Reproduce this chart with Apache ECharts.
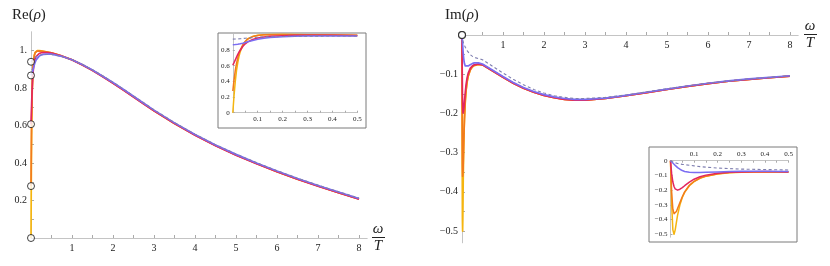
<!DOCTYPE html>
<html><head><meta charset="utf-8">
<script src="https://cdn.jsdelivr.net/npm/echarts@6.0.0/dist/echarts.min.js"></script>
<style>html,body{margin:0;padding:0;background:#fff}#c{width:830px;height:266px}</style>
</head><body><div id="c"></div>
<script>
// ---- data ----
const omega = [0, 0.005, 0.01, 0.015, 0.02, 0.025, 0.03, 0.04, 0.05, 0.06, 0.08, 0.1, 0.125, 0.15, 0.2, 0.25, 0.3, 0.4, 0.5, 0.75, 1, 1.25, 1.5, 1.75, 2, 2.25, 2.5, 2.75, 3, 3.5, 4, 4.5, 5, 5.5, 6, 6.5, 7, 7.5, 8];

const reYellow = [0, 0.22, 0.40, 0.54, 0.64, 0.72, 0.78, 0.86, 0.91, 0.945, 0.975, 0.99, 0.997, 0.999, 0.999, 0.998, 0.996, 0.992, 0.988, 0.971, 0.951, 0.924, 0.894, 0.861, 0.826, 0.790, 0.753, 0.716, 0.679, 0.611, 0.549, 0.493, 0.443, 0.397, 0.354, 0.314, 0.277, 0.242, 0.208];
const reOrange = [0.277, 0.42, 0.54, 0.63, 0.70, 0.755, 0.80, 0.865, 0.91, 0.94, 0.972, 0.987, 0.994, 0.997, 0.998, 0.997, 0.995, 0.991, 0.987, 0.971, 0.951, 0.924, 0.894, 0.861, 0.826, 0.790, 0.753, 0.716, 0.679, 0.611, 0.549, 0.493, 0.443, 0.397, 0.354, 0.314, 0.277, 0.242, 0.208];
const reRed = [0.607, 0.64, 0.675, 0.71, 0.745, 0.775, 0.80, 0.845, 0.88, 0.905, 0.935, 0.955, 0.968, 0.976, 0.984, 0.988, 0.989, 0.989, 0.986, 0.970, 0.950, 0.923, 0.893, 0.860, 0.825, 0.789, 0.752, 0.715, 0.678, 0.610, 0.548, 0.492, 0.442, 0.396, 0.353, 0.313, 0.276, 0.241, 0.207];
const reBlue = [0.867, 0.868, 0.87, 0.872, 0.874, 0.877, 0.88, 0.888, 0.897, 0.906, 0.922, 0.937, 0.95, 0.959, 0.97, 0.976, 0.979, 0.981, 0.981, 0.969, 0.951, 0.925, 0.896, 0.863, 0.829, 0.793, 0.756, 0.719, 0.682, 0.614, 0.552, 0.496, 0.446, 0.400, 0.357, 0.317, 0.280, 0.245, 0.211];
const reDashed = [0.94, 0.94, 0.941, 0.942, 0.943, 0.944, 0.945, 0.948, 0.951, 0.954, 0.959, 0.963, 0.967, 0.97, 0.974, 0.977, 0.978, 0.979, 0.979, 0.968, 0.951, 0.926, 0.897, 0.865, 0.831, 0.795, 0.758, 0.721, 0.684, 0.616, 0.554, 0.498, 0.448, 0.402, 0.359, 0.319, 0.282, 0.247, 0.213];

const imYellow = [0, -0.30, -0.47, -0.50, -0.47, -0.42, -0.37, -0.30, -0.25, -0.215, -0.17, -0.142, -0.12, -0.106, -0.09, -0.082, -0.078, -0.075, -0.076, -0.092, -0.108, -0.123, -0.136, -0.146, -0.154, -0.160, -0.164, -0.166, -0.166, -0.162, -0.155, -0.147, -0.139, -0.131, -0.124, -0.118, -0.113, -0.109, -0.105];
const imOrange = [0, -0.22, -0.33, -0.36, -0.36, -0.345, -0.325, -0.285, -0.245, -0.212, -0.167, -0.14, -0.118, -0.105, -0.089, -0.081, -0.077, -0.075, -0.076, -0.092, -0.108, -0.123, -0.136, -0.146, -0.154, -0.160, -0.164, -0.166, -0.166, -0.162, -0.155, -0.147, -0.139, -0.131, -0.124, -0.118, -0.113, -0.109, -0.105];
const imRed = [0, -0.09, -0.145, -0.175, -0.192, -0.199, -0.2, -0.194, -0.183, -0.17, -0.146, -0.126, -0.109, -0.098, -0.085, -0.079, -0.076, -0.074, -0.076, -0.092, -0.108, -0.123, -0.136, -0.146, -0.154, -0.160, -0.164, -0.166, -0.166, -0.162, -0.155, -0.147, -0.139, -0.131, -0.124, -0.118, -0.113, -0.109, -0.105];
const imBlue = [0, -0.008, -0.016, -0.024, -0.032, -0.04, -0.047, -0.058, -0.067, -0.073, -0.079, -0.08, -0.08, -0.079, -0.076, -0.073, -0.071, -0.071, -0.074, -0.090, -0.106, -0.121, -0.134, -0.144, -0.152, -0.158, -0.162, -0.164, -0.164, -0.161, -0.154, -0.146, -0.138, -0.130, -0.123, -0.117, -0.112, -0.108, -0.104];
const imDashed = [0, -0.004, -0.008, -0.011, -0.014, -0.017, -0.019, -0.022, -0.025, -0.027, -0.031, -0.035, -0.040, -0.044, -0.050, -0.054, -0.057, -0.060, -0.063, -0.080, -0.097, -0.113, -0.127, -0.139, -0.148, -0.155, -0.159, -0.162, -0.162, -0.159, -0.153, -0.145, -0.137, -0.130, -0.123, -0.117, -0.112, -0.108, -0.104];

const mainXLabels = [1, 2, 3, 4, 5, 6, 7, 8];
const mainXTicks = [0.5, 1, 1.5, 2, 2.5, 3, 3.5, 4, 4.5, 5, 5.5, 6, 6.5, 7, 7.5, 8];
const reYLabels = [0.2, 0.4, 0.6, 0.8, 1.0];
const imYLabels = [-0.1, -0.2, -0.3, -0.4, -0.5];
const insetXLabels = [0.1, 0.2, 0.3, 0.4, 0.5];
const insetReYLabels = [0, 0.2, 0.4, 0.6, 0.8];
const insetImYLabels = [0, -0.1, -0.2, -0.3, -0.4, -0.5];

// ---- styling ----
const FONT = 'Liberation Serif';
const AX = '#c4c4c4';
const TXT = '#222';
const colors = { yellow: '#F5B50F', orange: '#F27B1C', red: '#E3265E', blue: '#7B6DF2', dashed: '#7F7FB0' };

const reSets = [[reYellow, 'yellow'], [reOrange, 'orange'], [reRed, 'red'], [reBlue, 'blue'], [reDashed, 'dashed']];
const imSets = [[imYellow, 'yellow'], [imOrange, 'orange'], [imRed, 'red'], [imBlue, 'blue'], [imDashed, 'dashed']];

const pairs = (arr, maxX) => omega.map((x, i) => [x, arr[i]]).filter(p => maxX == null || p[0] <= maxX + 1e-9);
const minus = s => String(s).replace('-', '\u2212');
const fmt1 = v => Math.abs(v) < 1e-9 ? '0' : minus((Math.round(v * 10) / 10).toFixed(1));

function lineSeries(arr, key, idx, maxX, w) {
  const dashed = key === 'dashed';
  return {
    type: 'line', xAxisIndex: idx, yAxisIndex: idx,
    data: pairs(arr, maxX), showSymbol: false, symbol: 'none',
    smooth: false, clip: false, silent: true,
    lineStyle: { color: colors[key], width: dashed ? 1.1 : w, type: dashed ? [3, 2.5] : 'solid', join: 'round' },
    z: dashed ? 4 : 3
  };
}

const series = [];
reSets.forEach(([a, k]) => series.push(lineSeries(a, k, 0, null, 1.7)));
imSets.forEach(([a, k]) => series.push(lineSeries(a, k, 1, null, 1.7)));
reSets.forEach(([a, k]) => series.push(lineSeries(a, k, 2, 0.5, 1.5)));
imSets.forEach(([a, k]) => series.push(lineSeries(a, k, 3, 0.5, 1.5)));

const circleStyle = { color: '#fff', borderColor: '#111', borderWidth: 1 };
series.push({ type: 'scatter', xAxisIndex: 0, yAxisIndex: 0, symbolSize: 7, z: 10, silent: true, clip: false,
  itemStyle: circleStyle, data: reSets.map(([a]) => [omega[0], a[0]]) });
series.push({ type: 'scatter', xAxisIndex: 1, yAxisIndex: 1, symbolSize: 7, z: 10, silent: true, clip: false,
  itemStyle: circleStyle, data: imSets.map(([a]) => [omega[0], a[0]]) });

function xAx(idx, min, max, labels, ticks, opts) {
  return Object.assign({
    gridIndex: idx, type: 'value', min, max,
    axisLine: { onZero: false, lineStyle: { color: AX, width: 1 } },
    axisTick: { customValues: ticks, inside: false, length: 3, lineStyle: { color: '#aaa' } },
    axisLabel: { customValues: labels, formatter: v => (Number.isInteger(v) ? String(v) : fmt1(v)),
      fontFamily: FONT, fontSize: 10, color: TXT, margin: 5 },
    splitLine: { show: false }
  }, opts || {});
}
function yAx(idx, min, max, labels, ticks, fmt, opts) {
  return Object.assign({
    gridIndex: idx, type: 'value', min, max,
    axisLine: { onZero: false, lineStyle: { color: AX, width: 1 } },
    axisTick: { customValues: ticks, inside: true, length: 3, lineStyle: { color: '#aaa' } },
    axisLabel: { customValues: labels, formatter: fmt, fontFamily: FONT, fontSize: 10, color: TXT, margin: 4 },
    splitLine: { show: false }
  }, opts || {});
}

const insetLbl = { fontFamily: FONT, fontSize: 7, color: TXT, margin: 3 };
const insetXTicks = [0.05, 0.1, 0.15, 0.2, 0.25, 0.3, 0.35, 0.4, 0.45, 0.5];
const richTitle = {
  r: { fontFamily: FONT, fontSize: 15, color: TXT, fontWeight: 'normal' },
  i: { fontFamily: FONT, fontStyle: 'italic', fontSize: 15, color: TXT, fontWeight: 'normal' }
};

const option = {
  animation: false,
  backgroundColor: '#fff',
  grid: [
    { left: 31, top: 31.75, width: 336.2, height: 206.25 },
    { left: 462, top: 35, width: 336.2, height: 207.8 },
    { left: 232.8, top: 34.4, width: 124.5, height: 78.3 },
    { left: 670.5, top: 160.7, width: 118, height: 76.5 }
  ],
  xAxis: [
    xAx(0, 0, 8.2, mainXLabels, mainXTicks, { axisTick: { customValues: mainXTicks, inside: true, length: 3, lineStyle: { color: '#aaa' } } }),
    xAx(1, 0, 8.2, mainXLabels, mainXTicks, { position: 'top',
      axisLabel: { customValues: mainXLabels, inside: true, fontFamily: FONT, fontSize: 10, color: TXT, margin: 5 } }),
    xAx(2, 0, 0.5, insetXLabels, insetXTicks, {
      axisTick: { customValues: insetXTicks, inside: true, length: 2, lineStyle: { color: '#aaa' } },
      axisLabel: Object.assign({ customValues: insetXLabels, formatter: fmt1 }, insetLbl) }),
    xAx(3, 0, 0.5, insetXLabels, insetXTicks, { position: 'top',
      axisTick: { customValues: insetXTicks, inside: true, length: 2, lineStyle: { color: '#aaa' } },
      axisLabel: Object.assign({ customValues: insetXLabels, formatter: fmt1 }, insetLbl) })
  ],
  yAxis: [
    yAx(0, 0, 1.1, reYLabels, [0, 0.1, 0.2, 0.3, 0.4, 0.5, 0.6, 0.7, 0.8, 0.9, 1.0], v => (Math.abs(v - 1) < 1e-9 ? '1.' : fmt1(v))),
    yAx(1, -0.53, 0, imYLabels, [-0.5, -0.45, -0.4, -0.35, -0.3, -0.25, -0.2, -0.15, -0.1, -0.05], fmt1),
    yAx(2, 0, 1.0, insetReYLabels, [0, 0.2, 0.4, 0.6, 0.8], fmt1, {
      axisTick: { customValues: [0, 0.2, 0.4, 0.6, 0.8], inside: true, length: 2, lineStyle: { color: '#aaa' } },
      axisLabel: Object.assign({ customValues: insetReYLabels, formatter: fmt1 }, insetLbl) }),
    yAx(3, -0.52, 0, insetImYLabels, [0, -0.1, -0.2, -0.3, -0.4, -0.5], fmt1, {
      axisTick: { customValues: [0, -0.1, -0.2, -0.3, -0.4, -0.5], inside: true, length: 2, lineStyle: { color: '#aaa' } },
      axisLabel: Object.assign({ customValues: insetImYLabels, formatter: fmt1 }, insetLbl) })
  ],
  title: [
    { text: '{r|Re(}{i|ρ}{r|)}', left: 12, top: 8, padding: 0, textStyle: { fontWeight: 'normal', rich: richTitle } },
    { text: '{r|Im(}{i|ρ}{r|)}', left: 445, top: 8, padding: 0, textStyle: { fontWeight: 'normal', rich: richTitle } }
  ],
  graphic: [
    { type: 'rect', shape: { x: 218, y: 33, width: 148, height: 95 }, style: { fill: null, stroke: '#7a7a7a', lineWidth: 1 }, z: 0, silent: true },
    { type: 'rect', shape: { x: 649, y: 147, width: 148, height: 95 }, style: { fill: null, stroke: '#7a7a7a', lineWidth: 1 }, z: 0, silent: true },
    { type: 'text', x: 378, y: 229, style: { text: 'ω', font: 'italic 15px "Liberation Serif"', fill: TXT, align: 'center', verticalAlign: 'middle' }, silent: true },
    { type: 'line', shape: { x1: 372, y1: 237.5, x2: 385, y2: 237.5 }, style: { stroke: TXT, lineWidth: 1 }, silent: true },
    { type: 'text', x: 378, y: 246.5, style: { text: 'T', font: 'italic 15px "Liberation Serif"', fill: TXT, align: 'center', verticalAlign: 'middle' }, silent: true },
    { type: 'text', x: 810, y: 26, style: { text: 'ω', font: 'italic 15px "Liberation Serif"', fill: TXT, align: 'center', verticalAlign: 'middle' }, silent: true },
    { type: 'line', shape: { x1: 804, y1: 34.5, x2: 817, y2: 34.5 }, style: { stroke: TXT, lineWidth: 1 }, silent: true },
    { type: 'text', x: 810, y: 43.5, style: { text: 'T', font: 'italic 15px "Liberation Serif"', fill: TXT, align: 'center', verticalAlign: 'middle' }, silent: true }
  ],
  series
};

const chart = echarts.init(document.getElementById('c'), null, { renderer: 'canvas' });
chart.setOption(option);
</script></body></html>
